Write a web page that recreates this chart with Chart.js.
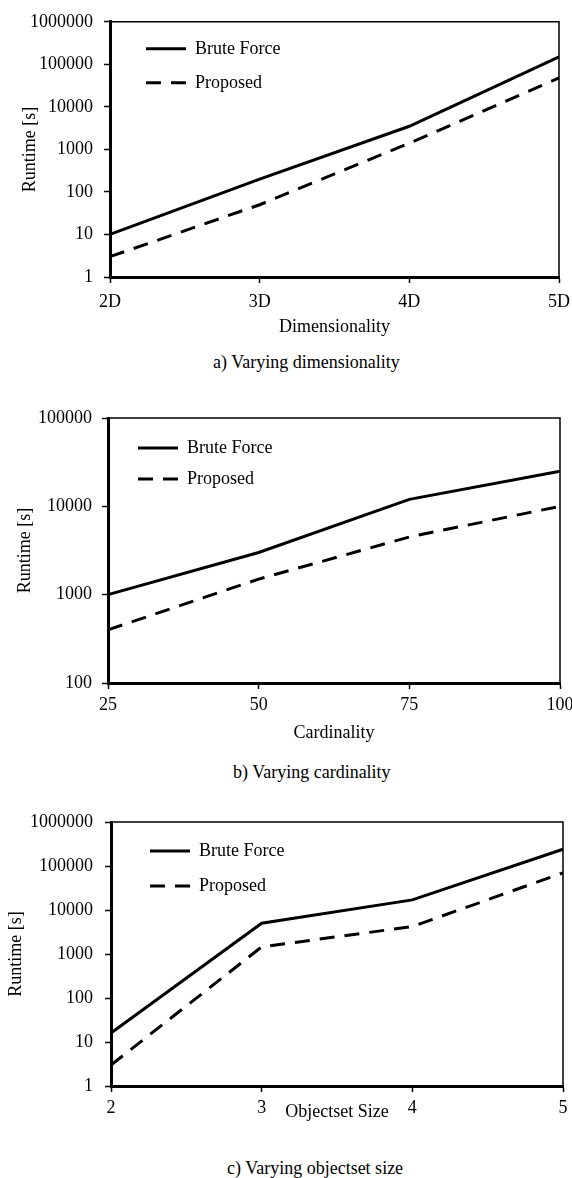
<!DOCTYPE html>
<html lang="en">
<head>
<meta charset="UTF-8" />
<title>Runtime: Brute Force vs Proposed</title>
<script src="https://cdn.jsdelivr.net/npm/chart.js"></script>
<style>
  html, body { margin: 0; padding: 0; background: #fff; overflow: hidden; }
  #page { position: relative; width: 572px; height: 1178px; overflow: hidden; background: #fff; }
  canvas { position: absolute; left: 0; }
  .caption {
    position: absolute;
    font-family: 'Liberation Serif', 'Times New Roman', serif;
    font-size: 18px;
    line-height: 20px;
    color: #000;
    white-space: nowrap;
  }
</style>
</head>
<body>
<div id="page">
  <canvas id="chartA" width="600" height="338" style="top:0px"></canvas>
  <div class="caption" style="left:213px; top:352px">a) Varying dimensionality</div>

  <canvas id="chartB" width="600" height="364" style="top:380px"></canvas>
  <div class="caption" style="left:233px; top:762px">b) Varying cardinality</div>

  <canvas id="chartC" width="600" height="343" style="top:780px"></canvas>
  <div class="caption" style="left:227px; top:1158px">c) Varying objectset size</div>
</div>

<script>
  // a) varying dimensionality
  const dimLabels = ['2D', '3D', '4D', '5D'];
  const dimBrute = [10, 200, 3500, 150000];
  const dimProposed = [3, 50, 1400, 48000];
  const dimTicks = [1, 10, 100, 1000, 10000, 100000, 1000000];

  // b) varying cardinality
  const cardLabels = ['25', '50', '75', '100'];
  const cardBrute = [1000, 3000, 12000, 25000];
  const cardProposed = [400, 1500, 4500, 10000];
  const cardTicks = [100, 1000, 10000, 100000];

  // c) varying objectset size
  const objLabels = ['2', '3', '4', '5'];
  const objBrute = [16, 5000, 17000, 240000];
  const objProposed = [3, 1450, 4200, 70000];
  const objTicks = [1, 10, 100, 1000, 10000, 100000, 1000000];

  const seriesNames = ['Brute Force', 'Proposed'];

  Chart.defaults.font.family = "'Liberation Serif', 'Times New Roman', serif";
  Chart.defaults.font.size = 18;
  Chart.defaults.color = '#000';

  // thin top/right frame + legend placement inside the plot
  const framePlugin = {
    id: 'frame',
    afterLayout(chart, args, opts) {
      const lg = chart.legend;
      if (lg) {
        lg.left = chart.chartArea.left + opts.dx;
        lg.top = chart.chartArea.top + opts.dy;
      }
    },
    beforeDatasetsDraw(chart) {
      const { ctx, chartArea: a } = chart;
      ctx.save();
      ctx.strokeStyle = '#000';
      ctx.lineWidth = 1.5;
      ctx.beginPath();
      ctx.moveTo(a.left, a.top);
      ctx.lineTo(a.right, a.top);
      ctx.lineTo(a.right, a.bottom);
      ctx.stroke();
      ctx.restore();
    }
  };

  function axisLook() {
    return {
      grid: { display: true, drawOnChartArea: false, drawTicks: true, tickLength: 6, tickWidth: 1.5, tickColor: '#000', offset: false },
      border: { display: true, color: '#000', width: 3 }
    };
  }

  function makeChart(id, labels, brute, proposed, yTicks, xTitle, L) {
    return new Chart(document.getElementById(id), {
      type: 'line',
      data: {
        labels: labels,
        datasets: [
          { label: seriesNames[0], data: brute, borderColor: '#000', backgroundColor: '#000', borderWidth: 3, pointRadius: 0, tension: 0, fill: false },
          { label: seriesNames[1], data: proposed, borderColor: '#000', backgroundColor: '#000', borderWidth: 3, borderDash: [15, 10], pointRadius: 0, tension: 0, fill: false }
        ]
      },
      options: {
        responsive: false,
        animation: false,
        devicePixelRatio: 1,
        layout: { padding: { top: L.top, right: L.right, bottom: 0, left: 0 } },
        plugins: {
          frame: { dx: L.legDx, dy: L.legDy },
          tooltip: { enabled: false },
          legend: {
            position: 'chartArea',
            align: 'start',
            labels: {
              usePointStyle: true,
              pointStyleWidth: 40,
              padding: L.legPad,
              font: { size: 18 },
              generateLabels(chart) {
                return chart.data.datasets.map((ds, i) => ({
                  text: ds.label,
                  strokeStyle: '#000',
                  fillStyle: '#000',
                  lineWidth: 3,
                  lineDash: ds.borderDash || [],
                  pointStyle: 'line',
                  datasetIndex: i,
                  hidden: false
                }));
              }
            }
          }
        },
        scales: {
          x: Object.assign(axisLook(), {
            type: 'category',
            offset: false,
            afterFit: s => { s.height = L.xHeight; },
            ticks: { padding: L.xTickPad, maxRotation: 0, autoSkip: false },
            title: { display: true, text: xTitle, padding: 0, font: { size: 18 } }
          }),
          y: Object.assign(axisLook(), {
            type: 'logarithmic',
            min: yTicks[0],
            max: yTicks[yTicks.length - 1],
            afterBuildTicks: s => { s.ticks = yTicks.map(v => ({ value: v })); },
            afterFit: s => { s.width = L.yWidth; },
            ticks: { padding: L.yTickPad, autoSkip: false, callback: v => String(v) },
            title: { display: true, text: 'Runtime [s]', padding: { top: L.yTitlePad, bottom: 0 }, font: { size: 18 } }
          })
        }
      },
      plugins: [framePlugin]
    });
  }

  makeChart('chartA', dimLabels, dimBrute, dimProposed, dimTicks, 'Dimensionality',
    { top: 17, right: 41, yWidth: 110, xHeight: 61, xTickPad: 8, yTickPad: 11, yTitlePad: 19, legPad: 16, legDx: 20, legDy: 2 });

  makeChart('chartB', cardLabels, cardBrute, cardProposed, cardTicks, 'Cardinality',
    { top: 38, right: 40, yWidth: 108, xHeight: 61, xTickPad: 5, yTickPad: 10, yTitlePad: 14, legPad: 13, legDx: 17, legDy: 8 });

  makeChart('chartC', objLabels, objBrute, objProposed, objTicks, 'Objectset Size',
    { top: 42, right: 37, yWidth: 111, xHeight: 37, xTickPad: 5, yTickPad: 12, yTitlePad: 5, legPad: 17, legDx: 22, legDy: 3 });
</script>
</body>
</html>
